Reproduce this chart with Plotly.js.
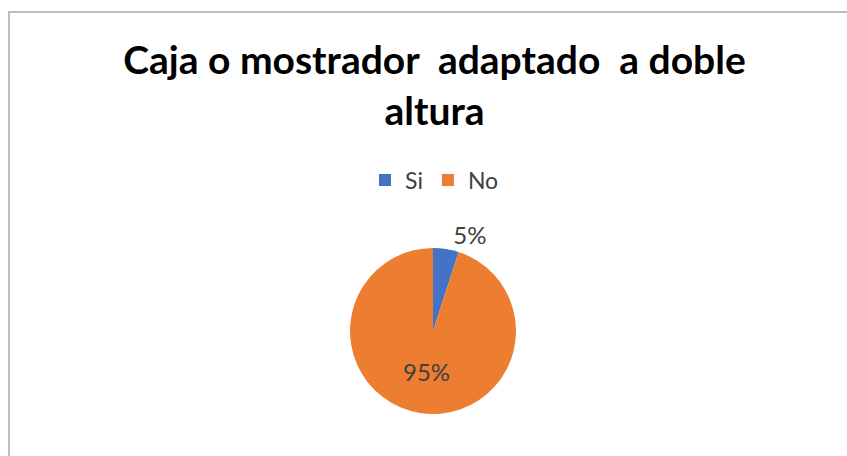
<!DOCTYPE html>
<html>
<head>
<meta charset="utf-8">
<script src="https://cdn.plot.ly/plotly-3.0.1.min.js"></script>
<style>
  html, body { margin: 0; padding: 0; background: #ffffff; overflow: hidden; }
  #frame { position: absolute; left: 8px; top: 11px; width: 900px; height: 500px; border: 2px solid #bcbcbc; box-sizing: border-box; }
  #chart { position: absolute; left: 0; top: 0; width: 847px; height: 456px; }
</style>
</head>
<body>
<div id="frame"></div>
<div id="chart"></div>
<script>
const chartTitle = 'Caja o mostrador  adaptado  a doble<br>altura';
const categories = ['Si', 'No'];
const values = [5, 95];
const colors = ['#4472C4', '#ED7D31'];
const labelPositions = ['outside', 'inside'];

const W = 847, H = 456;
const cx = 433, cy = 331, r = 83;
const FONT = 'Lato, sans-serif';

const trace = {
  type: 'pie',
  labels: categories,
  values: values,
  sort: false,
  direction: 'clockwise',
  rotation: 0,
  marker: { colors: colors, line: { width: 0 } },
  textinfo: 'percent',
  texttemplate: '%{percent:.0%}',
  textposition: labelPositions,
  insidetextorientation: 'horizontal',
  textfont: { family: FONT, size: 24, color: '#404040' },
  outsidetextfont: { family: FONT, size: 24, color: '#404040' },
  insidetextfont: { family: FONT, size: 24, color: '#404040' },
  domain: { x: [(cx - r) / W, (cx + r) / W], y: [(H - cy - r) / H, (H - cy + r) / H] },
  hoverinfo: 'label+percent'
};

const layout = {
  width: W, height: H,
  margin: { l: 0, r: 0, t: 0, b: 0 },
  paper_bgcolor: 'rgba(0,0,0,0)',
  plot_bgcolor: 'rgba(0,0,0,0)',
  title: {
    text: chartTitle,
    font: { family: FONT, size: 39, color: '#000000', weight: 'bold' },
    x: 0.513, xanchor: 'center',
    y: (H - 74) / H, yanchor: 'middle', yref: 'container'
  },
  showlegend: true,
  legend: {
    orientation: 'h',
    x: 0.513, xanchor: 'center',
    y: (H - 180) / H, yanchor: 'middle',
    font: { family: FONT, size: 23, color: '#404040' },
    itemwidth: 30,
    traceorder: 'normal'
  }
};

Plotly.newPlot('chart', [trace], layout, { displayModeBar: false, staticPlot: true });
</script>
</body>
</html>
